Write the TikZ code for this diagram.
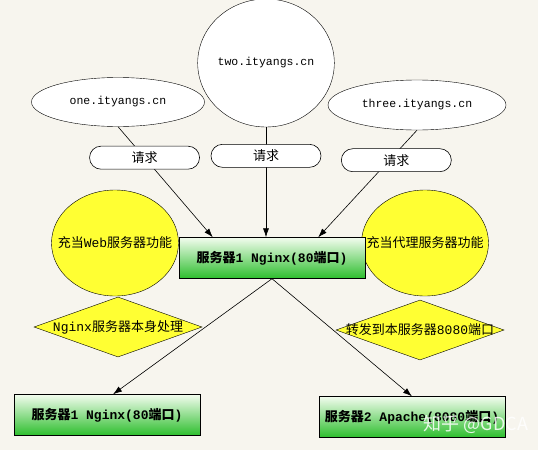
\documentclass[tikz,border=0pt]{standalone}
\usepackage{fontspec}
\setmainfont{Liberation Mono}
\newfontfamily\zhfont{Noto Sans CJK SC}
\usetikzlibrary{shapes.geometric,arrows.meta,calc}
\definecolor{bgcolore}{HTML}{F7F5EE}
\definecolor{hyellow}{HTML}{FFFF33}
\definecolor{hgreen}{HTML}{2DBE2D}
\definecolor{hgreenlight}{HTML}{F2FCEE}
\colorlet{bgcolor}{bgcolore}
\newcommand{\zh}[1]{{\zhfont #1}}% chinese text
\tikzstyle{host} = [
    ellipse,
    draw=black,
    fill=white,
    inner sep=0pt,
    font=\fontsize{11.5}{13}\selectfont
    ]
\tikzstyle{request} = [
    rectangle,
    rounded corners=11.5pt,
    draw=black,
    fill=white,
    minimum width=110pt,
    minimum height=23pt,
    inner sep=0pt,
    font=\fontsize{13}{15}\selectfont\zhfont
    ]
\tikzstyle{role} = [
    ellipse,
    draw=black,
    fill=hyellow,
    inner xsep=-15pt,
    inner ysep=0pt,
    minimum width=127pt,
    minimum height=106pt,
    font=\fontsize{13}{15}\selectfont
    ]
\tikzstyle{action} = [
    diamond,
    aspect=3,
    draw=black,
    fill=hyellow,
    inner xsep=-12pt,
    inner ysep=0pt,
    minimum width=168pt,
    minimum height=60pt,
    font=\fontsize{13}{15}\selectfont
    ]
\tikzstyle{server} = [
    rectangle,
    draw=black,
    top color=hgreenlight,
    bottom color=hgreen,
    minimum width=186pt,
    minimum height=41pt,
    inner sep=0pt,
    font=\fontsize{13}{16}\selectfont\bfseries
    ]
\tikzstyle{link} = [
    draw=black,
    line width=0.6pt,
    -{Latex[length=9pt,width=6pt]}
    ]

\begin{document}
\begin{tikzpicture}[x=1pt,y=-1pt]
\useasboundingbox (0,0) rectangle (538,450);
\fill[bgcolor] (0,0) rectangle (538,450);

% domains
\node[host, minimum width=173pt, minimum height=49pt] (one) at (118,102) {one.ityangs.cn};
\node[host, minimum width=122pt, minimum height=128pt] (two) at (266,63) {two.ityangs.cn};
\node[host, minimum width=178pt, minimum height=50pt] (three) at (417,105) {three.ityangs.cn};

% roles
\node[role] (web) at (115,243) {\zh{充当}Web\zh{服务器功能}};
\node[role] (proxy) at (425,243) {\zh{充当代理服务器功能}};
\node[action] (local) at (118,327) {Nginx\zh{服务器本身处理}};
\node[action] (forward) at (420,330) {\zh{转发到本服务器}8080\zh{端口}};

% servers
\node[server] (nginx) at (272,258) {\zh{服务器}1 Nginx(80\zh{端口})};
\node[server] (nginxout) at (107,415) {\zh{服务器}1 Nginx(80\zh{端口})};
\node[server] (apache) at (412,417) {\zh{服务器}2 Apache(8080\zh{端口})};

% requests
\draw[link] (one.south) -- node[request, pos=0.28] (req1) {请求} ([xshift=34pt]nginx.north west);
\draw[link] (two.south) -- node[request, pos=0.26] (req2) {请求} (two.south |- nginx.north);
\draw[link] (three.south) -- node[request, pos=0.28, xshift=7pt] (req3) {请求} ([xshift=-47pt]nginx.north east);
\draw[link] (nginx.south) -- ([xshift=6pt]nginxout.north);
\draw[link] (nginx.south) -- (apache.north);

\node[text=white, opacity=0.85, font=\fontsize{18}{20}\selectfont\zhfont] (mark) at (476,424) {知乎 @GDCA};
\end{tikzpicture}
\end{document}
